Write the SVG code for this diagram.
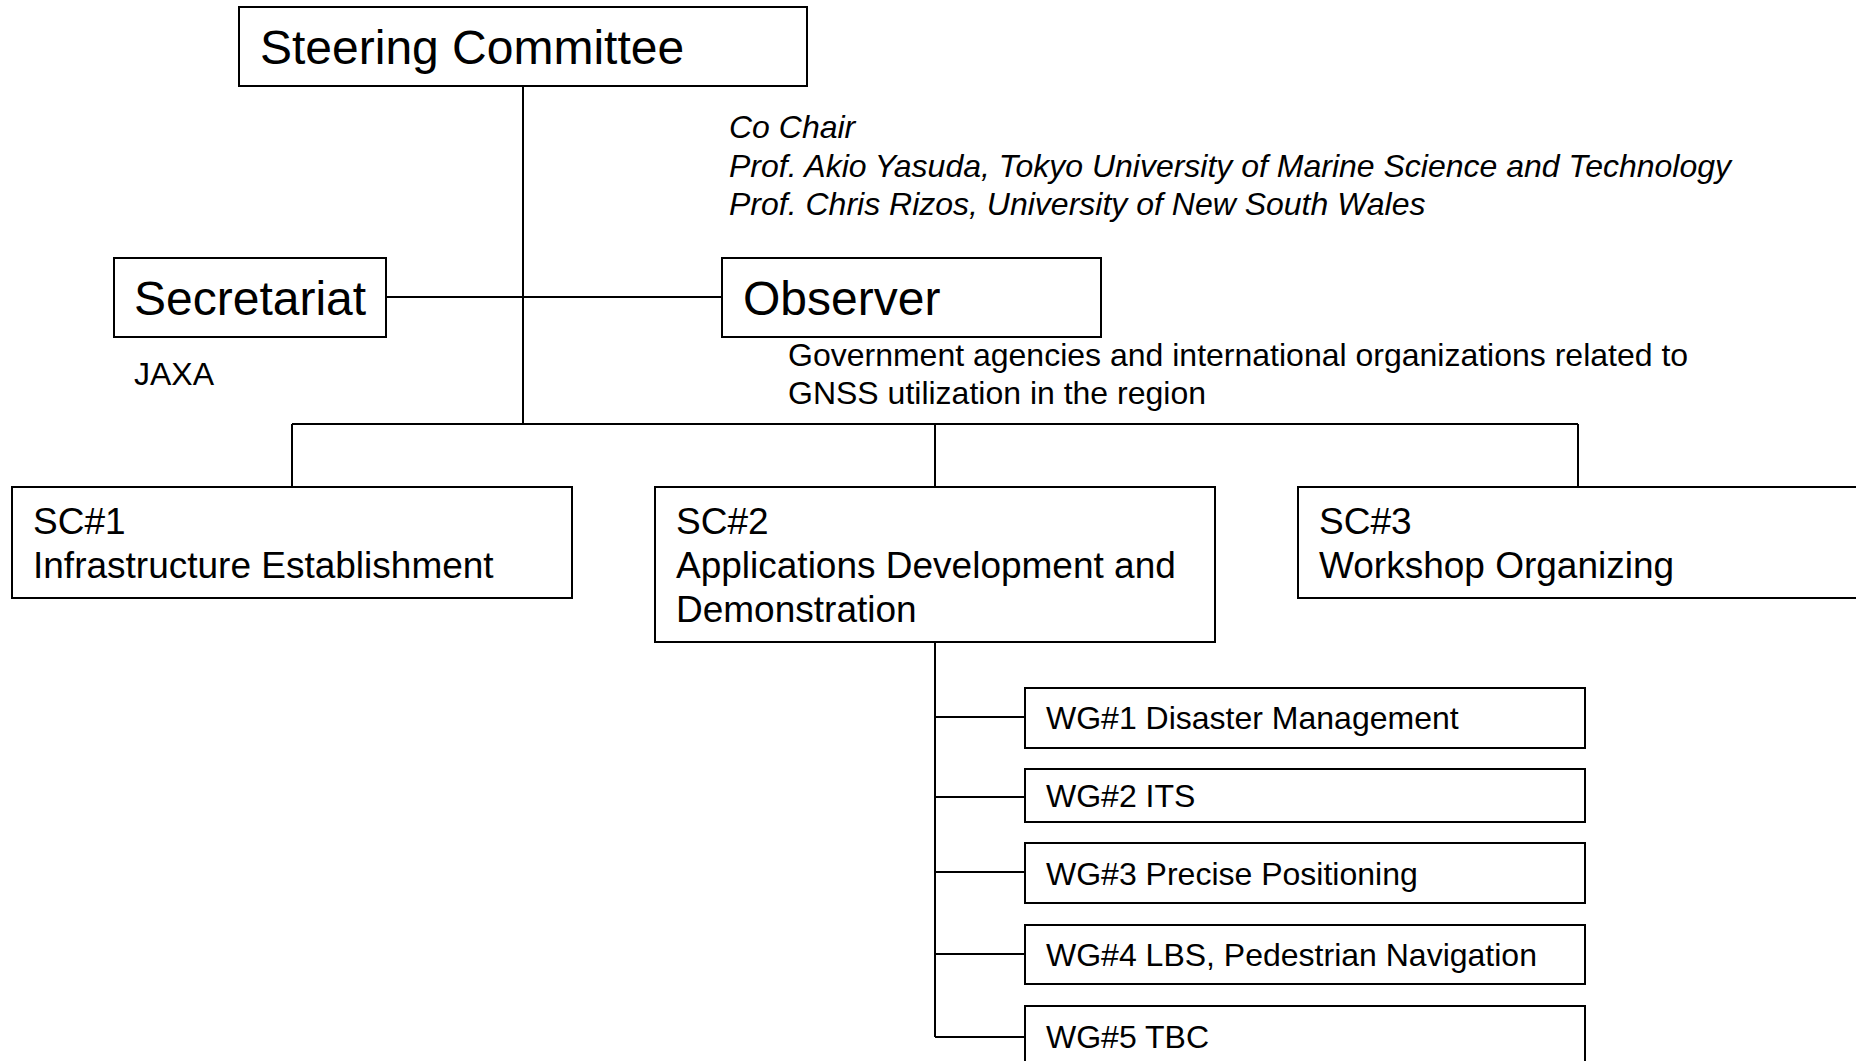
<svg xmlns="http://www.w3.org/2000/svg" width="1856" height="1061" viewBox="0 0 1856 1061">
<style>
.box{fill:#fff;stroke:#000;stroke-width:2}
.ln{stroke:#000;stroke-width:2;fill:none}
text{font-family:"Liberation Sans",Arial,sans-serif;fill:#000}
.big{font-size:48px}
.mid{font-size:37px}
.sm{font-size:32px}
.it{font-style:italic}
</style>
<rect width="1856" height="1061" fill="#fff"/>
<g id="connectors">
<line class="ln" x1="523" y1="86" x2="523" y2="424"/>
<line class="ln" x1="386" y1="297" x2="722" y2="297"/>
<line class="ln" x1="292" y1="424" x2="1578" y2="424"/>
<line class="ln" x1="292" y1="424" x2="292" y2="487"/>
<line class="ln" x1="935" y1="424" x2="935" y2="487"/>
<line class="ln" x1="1578" y1="424" x2="1578" y2="487"/>
<line class="ln" x1="935" y1="642" x2="935" y2="1037"/>
<line class="ln" x1="935" y1="717" x2="1025" y2="717"/>
<line class="ln" x1="935" y1="797" x2="1025" y2="797"/>
<line class="ln" x1="935" y1="872" x2="1025" y2="872"/>
<line class="ln" x1="935" y1="954" x2="1025" y2="954"/>
<line class="ln" x1="935" y1="1037" x2="1025" y2="1037"/>
</g>
<g id="steering">
<rect class="box" x="239" y="7" width="568" height="79"/>
<text class="big" x="260" y="64">Steering Committee</text>
</g>
<g id="cochair">
<text class="sm it" x="729" y="138">Co Chair</text>
<text class="sm it" x="729" y="177">Prof. Akio Yasuda, Tokyo University of Marine Science and Technology</text>
<text class="sm it" x="729" y="215">Prof. Chris Rizos, University of New South Wales</text>
</g>
<g id="secretariat">
<rect class="box" x="114" y="258" width="272" height="79"/>
<text class="big" x="134" y="315">Secretariat</text>
<text class="sm" x="134" y="385">JAXA</text>
</g>
<g id="observer">
<rect class="box" x="722" y="258" width="379" height="79"/>
<text class="big" x="743" y="315">Observer</text>
<text class="sm" x="788" y="366">Government agencies and international organizations related to</text>
<text class="sm" x="788" y="404">GNSS utilization in the region</text>
</g>
<g id="sc1">
<rect class="box" x="12" y="487" width="560" height="111"/>
<text class="mid" x="33" y="534">SC#1</text>
<text class="mid" x="33" y="578">Infrastructure Establishment</text>
</g>
<g id="sc2">
<rect class="box" x="655" y="487" width="560" height="155"/>
<text class="mid" x="676" y="534">SC#2</text>
<text class="mid" x="676" y="578">Applications Development and</text>
<text class="mid" x="676" y="622">Demonstration</text>
</g>
<g id="sc3">
<rect class="box" x="1298" y="487" width="600" height="111"/>
<text class="mid" x="1319" y="534">SC#3</text>
<text class="mid" x="1319" y="578">Workshop Organizing</text>
</g>
<g id="wg1">
<rect class="box" x="1025" y="688" width="560" height="60"/>
<text class="sm" x="1046" y="729">WG#1 Disaster Management</text>
</g>
<g id="wg2">
<rect class="box" x="1025" y="769" width="560" height="53"/>
<text class="sm" x="1046" y="807">WG#2 ITS</text>
</g>
<g id="wg3">
<rect class="box" x="1025" y="843" width="560" height="60"/>
<text class="sm" x="1046" y="885">WG#3 Precise Positioning</text>
</g>
<g id="wg4">
<rect class="box" x="1025" y="925" width="560" height="59"/>
<text class="sm" x="1046" y="966">WG#4 LBS, Pedestrian Navigation</text>
</g>
<g id="wg5">
<rect class="box" x="1025" y="1006" width="560" height="80"/>
<text class="sm" x="1046" y="1048">WG#5 TBC</text>
</g>
</svg>
